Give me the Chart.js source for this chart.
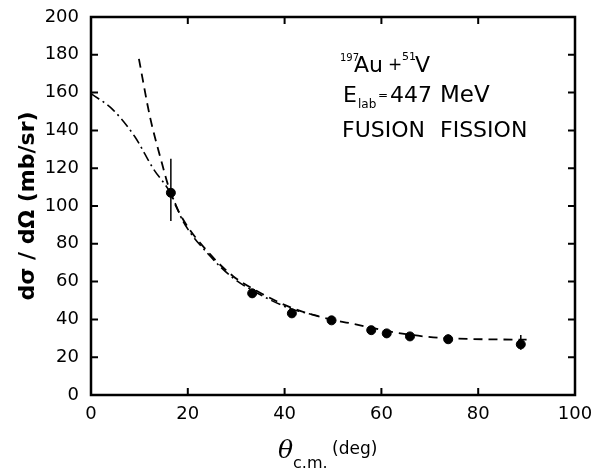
<!DOCTYPE html>
<html>
<head>
<meta charset="utf-8">
<script src="https://cdn.jsdelivr.net/npm/chart.js@4/dist/chart.umd.min.js"></script>
<style>
  html, body { margin: 0; padding: 0; background: #fff; }
  #wrap { width: 601px; height: 476px; }
</style>
</head>
<body>
<div id="wrap"><canvas id="chart" width="601" height="476"></canvas></div>
<script>
// measured points (deg, mb/sr)
const angles   = [16.5, 33.3, 41.5, 49.7, 57.9, 61.1, 65.9, 73.8, 88.8];
const sigma    = [107, 53.8, 43.2, 39.5, 34.3, 32.6, 31.0, 29.5, 26.8];
const errLow   = [92, 51.5, 41, 38, 33, 31.2, 29.5, 27.5, 24];
const errHigh  = [125, 56, 45.5, 41, 35.6, 34, 32.5, 32, 31.7];

// dashed fit
const dashX = [9.9, 12.2, 14.3, 16.5, 19, 24.6, 29.3, 34.3, 41.1, 49.4, 53.5, 62.4, 70.7, 81, 90];
const dashY = [177.8, 147, 126, 106.5, 93, 74.5, 63, 55, 46.5, 40, 38, 33.3, 30.5, 29.5, 29.3];

// dash-dot fit
const dotX = [0, 4.5, 9.1, 12.8, 16.5, 19, 24.6, 29.3, 34.3, 41.1, 47];
const dotY = [159.5, 151, 136.5, 120, 106.5, 92, 73.5, 62, 54, 45.8, 41.8];

const xTicks = [0, 20, 40, 60, 80, 100];
const yTicks = [0, 20, 40, 60, 80, 100, 120, 140, 160, 180, 200];

const pts = (xs, ys) => xs.map((x, i) => ({ x, y: ys[i] }));

const framePlugin = {
  id: 'frame',
  afterDatasetsDraw(chart) {
    const ctx = chart.ctx, a = chart.chartArea;
    const sx = chart.scales.x, sy = chart.scales.y;
    ctx.save();
    ctx.strokeStyle = '#000';
    // error bars
    ctx.lineWidth = 1.5;
    angles.forEach((x, i) => {
      const px = sx.getPixelForValue(x);
      ctx.beginPath();
      ctx.moveTo(px, sy.getPixelForValue(errLow[i]));
      ctx.lineTo(px, sy.getPixelForValue(errHigh[i]));
      ctx.stroke();
    });
    // frame
    ctx.lineWidth = 2.5;
    ctx.strokeRect(a.left, a.top, a.right - a.left, a.bottom - a.top);
    // inward ticks
    ctx.lineWidth = 2;
    xTicks.slice(1, -1).forEach(v => {
      const px = sx.getPixelForValue(v);
      ctx.beginPath();
      ctx.moveTo(px, a.bottom); ctx.lineTo(px, a.bottom - 7);
      ctx.moveTo(px, a.top); ctx.lineTo(px, a.top + 7);
      ctx.stroke();
    });
    yTicks.slice(1, -1).forEach(v => {
      const py = sy.getPixelForValue(v);
      ctx.beginPath();
      ctx.moveTo(a.left, py); ctx.lineTo(a.left + 7, py);
      ctx.moveTo(a.right, py); ctx.lineTo(a.right - 7, py);
      ctx.stroke();
    });

    // annotation
    ctx.fillStyle = '#000';
    ctx.textBaseline = 'alphabetic';
    ctx.textAlign = 'left';
    const big = '22px "DejaVu Sans"';
    ctx.font = '10px "DejaVu Sans"'; ctx.fillText('197', 340, 61);
    ctx.font = big;   ctx.fillText('Au', 354, 72);
    ctx.font = '17px "DejaVu Sans"'; ctx.fillText('+', 388, 70);
    ctx.font = '11px "DejaVu Sans"'; ctx.fillText('51', 402, 60);
    ctx.font = big;   ctx.fillText('V', 415, 72);
    ctx.fillText('E', 343, 102);
    ctx.font = '12px "DejaVu Sans"'; ctx.fillText('lab', 358, 108);
    ctx.font = '12px "DejaVu Sans"'; ctx.fillText('=', 378, 99);
    ctx.font = big;
    ctx.fillText('447', 390, 102);
    ctx.font = '23px "DejaVu Sans"';
    ctx.fillText('MeV', 440, 102);
    ctx.font = big;
    ctx.fillText('FUSION', 342, 137);
    ctx.fillText('FISSION', 440, 137);

    // x title
    ctx.font = 'italic 25px "DejaVu Serif"';
    ctx.fillText('θ', 278, 458);
    ctx.font = '16px "DejaVu Sans"';
    ctx.fillText('c.m.', 293, 468);
    ctx.font = '17px "DejaVu Sans"';
    ctx.fillText('(deg)', 332, 454);

    // y title
    ctx.translate(28, 206);
    ctx.rotate(-Math.PI / 2);
    ctx.textAlign = 'center';
    ctx.textBaseline = 'middle';
    ctx.font = 'bold 22px "DejaVu Sans"';
    ctx.fillText('dσ / dΩ (mb/sr)', 0, 0);
    ctx.restore();
  }
};

new Chart(document.getElementById('chart'), {
  type: 'scatter',
  data: {
    datasets: [
      {
        data: pts(dashX, dashY), showLine: true, pointRadius: 0,
        borderColor: '#000', borderWidth: 1.8, borderDash: [9, 6],
        cubicInterpolationMode: 'monotone', tension: 0.4
      },
      {
        data: pts(dotX, dotY), showLine: true, pointRadius: 0,
        borderColor: '#000', borderWidth: 1.6, borderDash: [10, 4, 2, 4],
        cubicInterpolationMode: 'monotone', tension: 0.4
      },
      {
        data: pts(angles, sigma), showLine: false, pointRadius: 4.5,
        pointBackgroundColor: '#000', pointBorderColor: '#000'
      }
    ]
  },
  options: {
    responsive: false,
    animation: false,
    layout: { padding: { top: 17, right: 26, left: 0, bottom: 0 } },
    plugins: { legend: { display: false }, tooltip: { enabled: false } },
    scales: {
      x: {
        type: 'linear', min: 0, max: 100,
        afterFit: s => { s.height = 81; s.paddingLeft = 0; s.paddingRight = 0; },
        afterBuildTicks: s => { s.ticks = xTicks.map(v => ({ value: v })); },
        grid: { display: false, drawTicks: false },
        border: { display: false },
        ticks: { color: '#000', padding: 9, maxRotation: 0, font: { family: 'DejaVu Sans', size: 18 } }
      },
      y: {
        type: 'linear', min: 0, max: 200,
        afterFit: s => { s.width = 91; s.paddingTop = 0; s.paddingBottom = 0; },
        afterBuildTicks: s => { s.ticks = yTicks.map(v => ({ value: v })); },
        grid: { display: false, drawTicks: false },
        border: { display: false },
        ticks: { color: '#000', padding: 12, font: { family: 'DejaVu Sans', size: 18 } }
      }
    }
  },
  plugins: [framePlugin]
});
</script>
</body>
</html>
